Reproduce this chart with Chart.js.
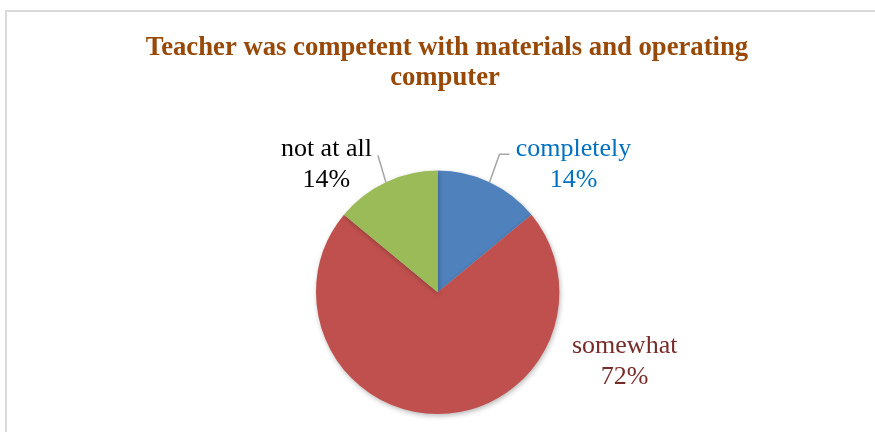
<!DOCTYPE html>
<html>
<head>
<meta charset="utf-8">
<script src="https://cdn.jsdelivr.net/npm/chart.js@4/dist/chart.umd.min.js"></script>
<style>
  html, body { margin: 0; padding: 0; background: #fff; }
  #wrap { position: relative; width: 875px; height: 432px; overflow: hidden; }
  #frame {
    position: absolute; left: 5px; top: 10px; width: 900px; height: 460px;
    border: 2px solid #dadada; box-sizing: border-box;
  }
  #chart { position: absolute; left: 0; top: 0; }
</style>
</head>
<body>
<div id="wrap">
  <div id="frame"></div>
  <canvas id="chart" width="875" height="432"></canvas>
</div>
<script>
const titleLines = ['Teacher was competent with materials and operating', 'computer'];
const categories = ['completely', 'somewhat', 'not at all'];
const percents = [14, 72, 14];
const sliceColors = ['#4F81BD', '#C0504D', '#9BBB59'];
const labelColors = ['#0070C0', '#772C2A', '#000000'];

const serif = '"Liberation Serif", "Times New Roman", serif';

// title drawn by hand so both lines sit where they should
const titlePlugin = {
  id: 'titleLines',
  afterDraw(chart) {
    const ctx = chart.ctx;
    ctx.save();
    ctx.fillStyle = '#984807';
    ctx.font = 'bold 26.7px ' + serif;
    ctx.textAlign = 'center';
    ctx.textBaseline = 'alphabetic';
    ctx.fillText(titleLines[0], 447, 55);
    ctx.fillText(titleLines[1], 445, 85);
    ctx.restore();
  }
};

// soft shadow under the pie
const shadowPlugin = {
  id: 'pieShadow',
  beforeDatasetsDraw(chart) {
    const ctx = chart.ctx;
    ctx.save();
    ctx.shadowColor = 'rgba(0,0,0,0.28)';
    ctx.shadowBlur = 5;
    ctx.shadowOffsetX = 1;
    ctx.shadowOffsetY = 2;
  },
  afterDatasetsDraw(chart) {
    chart.ctx.restore();
  }
};

// labels with leader lines, anchored on each slice's outer edge
const labelOffsets = [
  { dx: 84, dy: -26, leader: [[10, -28], [20, -28]] },
  { dx: 187, dy: -61, leader: null },
  { dx: -59.5, dy: -26, leader: [[-8, -27]] }
];

const labelPlugin = {
  id: 'sliceLabels',
  afterDraw(chart) {
    const ctx = chart.ctx;
    const arcs = chart.getDatasetMeta(0).data;
    ctx.save();
    arcs.forEach((arc, i) => {
      const mid = (arc.startAngle + arc.endAngle) / 2;
      const ex = arc.x + Math.cos(mid) * arc.outerRadius;
      const ey = arc.y + Math.sin(mid) * arc.outerRadius;
      const o = labelOffsets[i];
      if (o.leader) {
        ctx.strokeStyle = '#A6A6A6';
        ctx.lineWidth = 1.5;
        ctx.beginPath();
        ctx.moveTo(ex, ey);
        o.leader.forEach(p => ctx.lineTo(ex + p[0], ey + p[1]));
        ctx.stroke();
      }
      const tx = ex + o.dx;
      const ty = ey + o.dy;
      ctx.fillStyle = labelColors[i];
      ctx.font = '26px ' + serif;
      ctx.textAlign = 'center';
      ctx.textBaseline = 'alphabetic';
      ctx.fillText(categories[i], tx, ty);
      ctx.fillText(percents[i] + '%', tx, ty + 31);
    });
    ctx.restore();
  }
};

new Chart(document.getElementById('chart'), {
  type: 'pie',
  data: {
    labels: categories,
    datasets: [{
      data: percents,
      backgroundColor: sliceColors,
      borderWidth: 0
    }]
  },
  options: {
    responsive: false,
    animation: false,
    layout: { padding: { left: 316, right: 315.6, top: 170.6, bottom: 18 } },
    plugins: {
      legend: { display: false },
      tooltip: { enabled: false },
      title: { display: false }
    }
  },
  plugins: [shadowPlugin, titlePlugin, labelPlugin]
});
</script>
</body>
</html>
